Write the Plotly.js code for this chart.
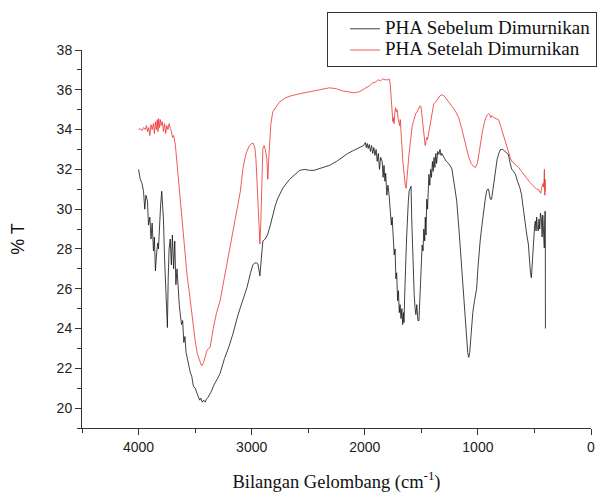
<!DOCTYPE html>
<html>
<head>
<meta charset="utf-8">
<script src="https://cdn.plot.ly/plotly-3.0.1.min.js"></script>
<style>html,body{margin:0;padding:0;background:#fff;}#chart{width:609px;height:493px;}</style>
</head>
<body>
<div id="chart"></div>
<script>
// PHA Sebelum Dimurnikan (before purification): wavenumber (cm-1), %T
const wnBefore = [4000,3985,3970,3956,3945,3935,3921,3912,3900,3890,3880,3868,3860,3851,3840,3830,3824,3815,3805,3795,3789,3780,3770,3760,3752,3745,3738,3730,3720,3710,3701,3690,3680,3670,3660,3650,3640,3631,3620,3610,3600,3590,3580,3569,3555,3543,3530,3515,3500,3481,3470,3460,3450,3437,3425,3410,3400,3385,3360,3330,3300,3279,3240,3200,3165,3120,3080,3042,3010,2990,2971,2955,2945,2935,2927,2918,2901,2880,2857,2835,2813,2790,2769,2720,2664,2620,2576,2530,2488,2450,2400,2312,2250,2200,2150,2100,2060,2030,2010,1995,1987,1978,1970,1960,1950,1940,1930,1920,1910,1900,1890,1880,1870,1860,1846,1838,1830,1822,1815,1805,1795,1785,1775,1765,1758,1750,1740,1732,1725,1718,1710,1702,1695,1688,1680,1672,1665,1658,1653,1648,1642,1636,1630,1622,1615,1608,1600,1591,1585,1578,1570,1563,1555,1548,1540,1530,1521,1514,1508,1500,1493,1485,1478,1470,1465,1459,1452,1445,1440,1433,1425,1418,1410,1402,1395,1388,1380,1372,1365,1355,1345,1335,1326,1319,1300,1280,1260,1245,1231,1210,1187,1165,1143,1120,1100,1090,1081,1072,1060,1045,1030,1020,1011,1000,990,980,967,950,935,923,914,906,898,890,879,868,856,844,830,815,800,791,780,760,745,730,715,700,685,668,650,630,615,600,585,570,554,545,535,527,520,512,505,498,492,486,480,475,466,460,453,447,439,432,426,420,413,409,406,404,403];
const tBefore = [32.0,31.5,31.3,30.9,30.0,30.7,30.4,29.2,29.6,28.5,29.3,27.9,28.6,26.9,27.8,28.3,28.0,29.5,30.2,30.9,30.5,29.5,27.5,26.0,25.0,24.05,26.5,28.0,28.5,27.2,28.7,27.0,28.4,26.2,27.0,25.7,25.2,24.7,24.2,24.4,23.3,23.6,22.8,22.5,22.0,21.8,21.6,21.1,21.0,20.75,20.6,20.4,20.5,20.3,20.4,20.3,20.45,20.55,20.8,21.2,21.5,21.75,22.5,23.1,23.75,24.7,25.4,26.05,26.8,27.2,27.3,27.3,27.25,26.9,26.65,27.3,28.4,28.5,28.75,29.2,29.75,30.2,30.55,31.1,31.5,31.75,31.95,32.0,31.95,31.95,32.05,32.2,32.4,32.6,32.8,32.95,33.05,33.15,33.2,33.35,33.1,33.3,33.05,33.25,32.9,33.2,32.8,33.1,32.7,33.0,32.4,32.8,32.0,32.6,32.4,31.6,32.2,31.4,31.8,30.7,31.2,30.7,30.0,29.2,29.6,28.5,27.7,28.0,26.5,26.8,25.4,25.9,24.8,25.2,24.5,25.0,24.2,24.8,24.3,25.5,26.2,27.6,28.6,29.8,30.4,30.9,31.0,31.15,29.5,28.0,26.5,25.7,25.0,24.7,25.2,24.4,24.4,25.5,26.8,27.4,28.2,27.9,29.0,28.4,29.6,28.7,30.5,30.0,31.0,31.75,31.2,32.0,31.6,32.4,31.9,32.6,32.1,32.8,32.3,32.9,32.75,33.0,32.7,32.8,32.6,32.4,32.3,32.2,32.05,31.3,30.4,28.8,27.05,25.0,23.4,22.8,22.55,22.8,23.7,24.8,25.4,25.7,26.0,27.0,27.8,28.4,29.05,29.9,30.5,30.9,31.0,31.0,30.8,30.5,30.5,31.0,31.5,31.9,32.5,32.8,33.0,33.0,33.0,32.9,32.8,32.75,32.3,32.0,31.9,31.75,31.4,31.1,30.75,30.0,29.4,28.8,28.25,27.5,26.8,26.55,27.3,28.2,28.8,29.2,29.4,28.9,29.6,29.1,28.9,29.5,29.0,29.8,29.55,28.6,29.7,29.0,28.05,29.5,29.9,29.8,24.0];

// PHA Setelah Dimurnikan (after purification): wavenumber (cm-1), %T
const wnAfter = [4000,3985,3970,3955,3940,3930,3920,3910,3900,3890,3880,3868,3860,3850,3842,3835,3828,3822,3815,3807,3800,3790,3780,3770,3760,3750,3740,3730,3719,3710,3700,3690,3675,3665,3655,3648,3635,3620,3604,3590,3570,3555,3543,3520,3500,3481,3460,3445,3437,3425,3410,3395,3380,3367,3340,3310,3279,3240,3200,3165,3130,3100,3077,3050,3020,2998,2985,2971,2962,2954,2945,2938,2932,2927,2920,2913,2906,2901,2890,2880,2866,2857,2850,2840,2830,2813,2790,2752,2700,2650,2576,2500,2400,2312,2250,2200,2150,2100,2048,2000,1960,1930,1900,1880,1860,1840,1820,1800,1785,1775,1765,1758,1752,1745,1741,1735,1728,1722,1714,1707,1700,1692,1686,1679,1672,1665,1658,1650,1642,1635,1628,1620,1612,1605,1598,1591,1580,1570,1560,1550,1538,1530,1520,1510,1503,1496,1488,1480,1472,1466,1459,1452,1445,1433,1420,1405,1390,1371,1350,1335,1319,1300,1280,1260,1240,1220,1196,1170,1143,1120,1100,1080,1060,1040,1020,1005,990,975,960,945,930,915,905,895,885,875,860,840,818,800,780,760,740,725,712,700,680,660,640,615,590,565,540,515,495,480,466,455,445,435,428,422,418,414,412,410,408,406,404];
const tAfter = [34.0,34.05,33.95,34.1,34.0,34.2,33.9,34.1,33.7,34.25,34.0,34.3,33.8,34.4,34.0,34.5,33.9,34.55,34.1,34.5,34.2,34.4,33.9,34.3,33.8,34.2,34.0,34.3,34.05,33.9,33.6,33.7,33.25,32.6,32.0,31.4,30.5,29.6,28.75,27.8,26.6,26.0,25.4,24.3,23.4,22.75,22.35,22.15,22.15,22.3,22.6,22.9,23.0,23.05,24.0,24.8,25.4,26.6,27.7,28.75,29.8,30.9,32.05,32.8,33.2,33.3,33.3,33.05,32.5,31.55,30.5,29.5,28.6,28.25,29.2,31.0,32.5,33.05,33.2,33.0,32.55,31.5,32.4,33.5,34.3,34.9,35.1,35.4,35.6,35.7,35.8,35.9,36.0,36.1,36.05,35.95,35.9,35.85,35.9,36.05,36.2,36.35,36.4,36.5,36.45,36.55,36.5,36.5,36.55,36.3,35.5,34.8,34.4,34.6,34.3,34.8,35.1,34.9,35.0,34.6,34.4,34.2,34.5,34.05,33.2,32.5,32.0,31.5,31.2,31.05,31.4,32.0,32.6,33.0,33.4,33.75,34.2,34.4,34.6,34.8,34.9,35.0,35.1,35.2,35.15,34.8,34.4,33.9,33.6,33.2,33.4,33.6,33.5,33.9,34.5,35.0,35.3,35.4,35.6,35.7,35.75,35.7,35.55,35.4,35.3,35.1,34.9,34.6,34.05,33.5,33.0,32.6,32.3,32.15,32.1,32.3,32.8,33.4,33.9,34.3,34.6,34.75,34.8,34.75,34.6,34.7,34.6,34.55,34.5,34.2,33.8,33.4,33.0,32.8,32.55,32.4,32.3,32.2,32.1,31.9,31.7,31.5,31.35,31.2,31.1,31.0,31.0,30.9,30.8,31.1,31.3,31.3,31.1,31.6,32.0,31.2,30.7,31.5,30.9];

const seriesNames = ["PHA Sebelum Dimurnikan", "PHA Setelah Dimurnikan"];
const xTickVals = [4000, 3000, 2000, 1000, 0];
const yTickVals = [20, 22, 24, 26, 28, 30, 32, 34, 36, 38];

const traces = [
  {x: wnBefore, y: tBefore, name: '<span style="font-size:19px">' + seriesNames[0] + '</span>',
   type: 'scatter', mode: 'lines', line: {color: '#111111', width: 0.8}},
  {x: wnAfter, y: tAfter, name: '<span style="font-size:19px">' + seriesNames[1] + '</span>',
   type: 'scatter', mode: 'lines', line: {color: '#e8322f', width: 0.8}}
];

const axisCommon = {
  showgrid: false, zeroline: false, showline: true, linecolor: '#333', linewidth: 1,
  ticks: 'outside', ticklen: 6, tickwidth: 1, tickcolor: '#333',
  tickfont: {family: 'Arial, "Liberation Sans", sans-serif', size: 14, color: '#222'}
};

const layout = {
  width: 609, height: 493,
  margin: {l: 82, r: 16, t: 48, b: 65},
  paper_bgcolor: '#fff', plot_bgcolor: '#fff',
  showlegend: true,
  legend: {
    x: 0.4814, y: 1.1, xanchor: 'left', yanchor: 'top',
    bgcolor: '#fff', bordercolor: '#333', borderwidth: 1,
    font: {family: '"Times New Roman", "Liberation Serif", serif', size: 14, color: '#111'},
    indentation: 17, tracegroupgap: 0
  },
  xaxis: Object.assign({}, axisCommon, {
    range: [4500, 0], tickvals: xTickVals,
    minor: {dtick: 500, tick0: 0, ticks: 'outside', ticklen: 4, tickcolor: '#333'},
    title: {text: 'Bilangan Gelombang (cm<sup>-1</sup>)', standoff: 22,
            font: {family: '"Times New Roman", "Liberation Serif", serif', size: 18.5, color: '#111'}}
  }),
  yaxis: Object.assign({}, axisCommon, {
    range: [19, 38], tickvals: yTickVals,
    minor: {dtick: 1, tick0: 0, ticks: 'outside', ticklen: 4, tickcolor: '#333'},
    title: {text: '% T', standoff: 27,
            font: {family: 'Arial, "Liberation Sans", sans-serif', size: 18, color: '#111'}}
  })
};

Plotly.newPlot('chart', traces, layout, {displayModeBar: false, staticPlot: true});
</script>
</body>
</html>
